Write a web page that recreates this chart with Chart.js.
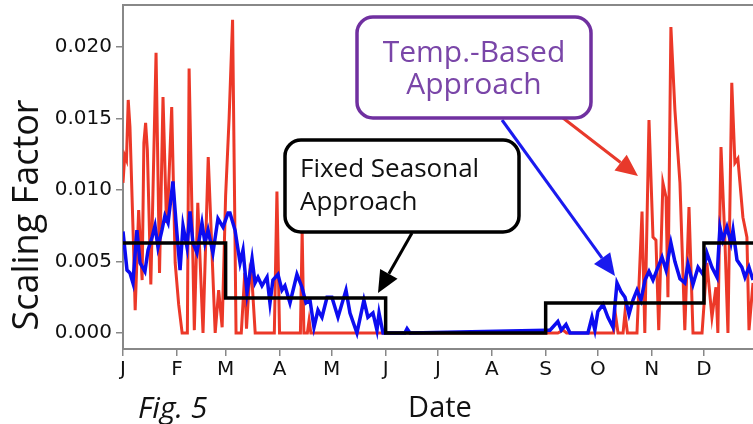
<!DOCTYPE html>
<html>
<head>
<meta charset="utf-8">
<script src="https://cdn.jsdelivr.net/npm/chart.js@4"></script>
<style>
  body { margin: 0; background: #fff; }
  canvas { display: block; }
</style>
</head>
<body>
<canvas id="scalingChart" width="753" height="424"></canvas>
<script>
    // month starts (day of year) and their tick labels
    const monthDays = [0, 31, 59, 90, 120, 151, 181, 212, 243, 273, 304, 334];
    const monthLabels = ['J', 'F', 'M', 'A', 'M', 'J', 'J', 'A', 'S', 'O', 'N', 'D'];
    const yTicks = [0, 0.005, 0.010, 0.015, 0.020];

    // temperature-based approach, daily (values in thousandths)
    const redDays = [0, 1, 2, 3, 4, 6, 7, 9, 11, 12, 13, 14, 16, 17, 19, 21, 23, 25, 26, 28, 30, 32, 34, 37, 38, 41, 43, 46, 49, 53, 55, 57, 59, 61, 63, 65, 68, 70, 71, 73, 74, 76, 87, 88.5, 90, 102, 103, 104, 106, 107, 108, 110, 250, 253, 255, 282, 283, 284.6, 287.5, 288.6, 290, 295.5, 298.4, 300, 302.4, 304.7, 306.4, 308, 310.4, 312.2, 313.3, 315, 317.3, 320.2, 323, 325.4, 327.7, 332.9, 335.7, 338.6, 340.9, 342, 343.8, 346, 347.8, 350, 351.8, 353.5, 356.4, 358.7, 359.9, 362.2];
    const redVals = [10.5, 12.4, 12.1, 16.3, 14.4, 6.3, 1.6, 8.6, 3.7, 13.3, 14.7, 12.8, 3.4, 8.6, 19.6, 4.2, 16.5, 7.7, 9.5, 15.8, 4.9, 2.0, 0, 0, 18.5, 0.2, 9.1, 0, 12.3, 0, 3.0, 0.4, 9.6, 15.0, 21.9, 0, 0, 4.2, 0.3, 4.4, 4.0, 0, 0, 9.9, 0, 0, 7.1, 0, 0, 0.9, 0, 0, 0, 0.2, 0, 0, 1.4, 0, 0, 1.4, 0, 0, 8.5, 0, 14.9, 6.7, 6.5, 0.2, 10.5, 9.5, 2.5, 21.4, 15.6, 10.5, 0.2, 8.8, 0, 0, 4.9, 1.1, 3.2, 0, 13.0, 6.7, 0, 17.5, 11.9, 12.2, 8.1, 6.7, 0.2, 3.5];

    // smoothed temperature-based approach (values in thousandths)
    const blueDays = [0, 2.3, 4, 5.7, 8, 9.8, 12.6, 14.4, 16.7, 18.4, 20.1, 22.4, 24.1, 25.9, 28.7, 30.5, 32.8, 34.5, 36.8, 38.5, 40.2, 42.5, 45.4, 47.1, 48.9, 51.7, 54.6, 57.5, 60.4, 61.5, 64.4, 67.3, 69, 71.3, 74.2, 75.9, 77.6, 79.9, 82.8, 84.5, 86.2, 89.1, 91.4, 93.1, 96, 100, 102.9, 105.2, 107.5, 109.8, 112.1, 114.4, 117.3, 120.1, 123.6, 128.2, 130.5, 134.5, 138.5, 140.8, 143.7, 146, 147.2, 149.5, 162, 163.3, 165, 243.2, 245.5, 250, 252, 254.7, 257, 267.3, 269.6, 271.3, 273, 276, 278.8, 281.7, 284, 286.3, 288.6, 290.9, 293.2, 295.5, 297.8, 300.1, 302.4, 304.7, 307.6, 309.9, 312.2, 315, 317.3, 320.2, 323, 324.8, 327.7, 330.6, 333.4, 335.7, 338.6, 341.5, 343.2, 344.9, 347.2, 349.5, 350.7, 353, 355.8, 357.6, 359.9, 362.2];
    const blueVals = [7.1, 4.4, 4.2, 3.5, 7.2, 4.9, 4.3, 5.8, 6.7, 7.5, 6.0, 7.2, 8.2, 7.7, 10.6, 7.7, 4.4, 7.5, 6.0, 8.5, 6.3, 5.6, 7.7, 6.3, 7.2, 5.6, 8.0, 7.4, 8.4, 8.4, 7.2, 4.9, 5.8, 2.8, 5.2, 3.5, 3.9, 3.3, 3.9, 2.1, 3.7, 4.1, 3.0, 3.3, 2.1, 4.1, 3.2, 2.1, 2.3, 0.4, 1.6, 1.1, 2.5, 2.5, 1.1, 3.0, 1.4, 0, 2.3, 1.1, 1.4, 0.2, 1.4, 0, 0, 0.3, 0, 0.2, 0.2, 0.8, 0.2, 0.6, 0, 0, 1.1, 0.2, 1.5, 2.0, 1.1, 0.4, 3.5, 2.9, 2.5, 1.3, 2.3, 3.0, 2.3, 3.7, 4.3, 3.7, 4.6, 5.3, 4.4, 6.3, 5.0, 3.8, 3.5, 4.8, 3.4, 4.6, 4.1, 5.6, 4.6, 3.9, 7.4, 6.5, 7.4, 6.3, 7.2, 5.1, 4.6, 3.9, 4.6, 3.7];

    // fixed seasonal approach (values in thousandths), value holds until next day listed
    const stepDays = [0, 59, 151, 243, 334, 362.2];
    const stepVals = [6.3, 2.45, 0, 2.1, 6.3, 6.3];

    function toPoints(days, vals) {
        return days.map((d, i) => ({ x: d, y: vals[i] / 1000 }));
    }

    function arrow(ctx, x1, y1, x2, y2, color) {
        const ang = Math.atan2(y2 - y1, x2 - x1);
        const headLen = 22, headW = 10;
        const bx = x2 - headLen * Math.cos(ang), by = y2 - headLen * Math.sin(ang);
        ctx.strokeStyle = color;
        ctx.fillStyle = color;
        ctx.lineWidth = 3;
        ctx.beginPath();
        ctx.moveTo(x1, y1);
        ctx.lineTo(bx, by);
        ctx.stroke();
        ctx.beginPath();
        ctx.moveTo(x2, y2);
        ctx.lineTo(bx + headW * Math.sin(ang), by - headW * Math.cos(ang));
        ctx.lineTo(bx - headW * Math.sin(ang), by + headW * Math.cos(ang));
        ctx.closePath();
        ctx.fill();
    }

    function box(ctx, x, y, w, h, color) {
        ctx.beginPath();
        ctx.roundRect(x, y, w, h, 16);
        ctx.fillStyle = '#fff';
        ctx.fill();
        ctx.lineWidth = 3.5;
        ctx.strokeStyle = color;
        ctx.stroke();
    }

    const annotations = {
        id: 'annotations',
        afterDraw(chart) {
            const ctx = chart.ctx;
            const a = chart.chartArea;
            ctx.save();
            // top frame line
            ctx.strokeStyle = '#888';
            ctx.lineWidth = 2;
            ctx.beginPath();
            ctx.moveTo(a.left, a.top);
            ctx.lineTo(a.right, a.top);
            ctx.stroke();

            const font = '"Open Sans", sans-serif';
            // y axis title
            ctx.save();
            ctx.translate(38, 215);
            ctx.rotate(-Math.PI / 2);
            ctx.fillStyle = '#111';
            ctx.font = '36px ' + font;
            ctx.textAlign = 'center';
            ctx.textBaseline = 'alphabetic';
            ctx.fillText('Scaling Factor', 0, 0);
            ctx.restore();

            ctx.fillStyle = '#111';
            ctx.font = '29px ' + font;
            ctx.textAlign = 'center';
            ctx.fillText('Date', 440, 417);
            ctx.textAlign = 'left';
            ctx.font = 'italic 30px ' + font;
            ctx.fillText('Fig. 5', 138, 418);

            // arrows
            arrow(ctx, 412, 233, 378, 293, '#000');
            arrow(ctx, 502, 120, 615, 276, '#1a1aee');
            arrow(ctx, 563, 118, 638, 176, '#e8392b');

            // boxes
            box(ctx, 357, 17, 234, 101, '#7030a0');
            ctx.fillStyle = '#7a46a8';
            ctx.font = '30px ' + font;
            ctx.textAlign = 'center';
            ctx.fillText('Temp.-Based', 474, 62);
            ctx.fillText('Approach', 474, 94);

            box(ctx, 285, 140, 234, 92, '#000');
            ctx.fillStyle = '#111';
            ctx.font = '26px ' + font;
            ctx.textAlign = 'left';
            ctx.fillText('Fixed Seasonal', 300, 177);
            ctx.fillText('Approach', 300, 210);
            ctx.restore();
        }
    };

    const ctx = document.getElementById('scalingChart').getContext('2d');
    new Chart(ctx, {
        type: 'line',
        data: {
            datasets: [{
                label: 'Fixed Seasonal Approach',
                data: toPoints(stepDays, stepVals),
                borderColor: '#000',
                borderWidth: 3.5,
                stepped: 'before',
                pointRadius: 0
            }, {
                label: 'Temp.-Based (smoothed)',
                data: toPoints(blueDays, blueVals),
                borderColor: 'rgb(12,12,240)',
                borderWidth: 3.5,
                tension: 0,
                pointRadius: 0
            }, {
                label: 'Temp.-Based Approach',
                data: toPoints(redDays, redVals),
                borderColor: 'rgb(236,56,40)',
                borderWidth: 3,
                tension: 0,
                pointRadius: 0
            }]
        },
        options: {
            responsive: false,
            animation: false,
            layout: { padding: { top: 5, left: 0, right: 0, bottom: 0 } },
            plugins: {
                legend: { display: false },
                tooltip: { enabled: false }
            },
            scales: {
                x: {
                    type: 'linear',
                    min: 0,
                    max: 362.2,
                    afterBuildTicks: scale => {
                        scale.ticks = monthDays.map(v => ({ value: v }));
                    },
                    afterFit: scale => {
                        scale.height = 75;
                        scale.paddingLeft = 0;
                        scale.paddingRight = 0;
                    },
                    ticks: {
                        callback: (v, i) => monthLabels[i],
                        font: { family: 'DejaVu Sans', size: 20 },
                        color: '#111',
                        padding: 2,
                        maxRotation: 0,
                        autoSkip: false
                    },
                    grid: { drawOnChartArea: false, tickLength: 7, color: '#888', lineWidth: 1.5 },
                    border: { color: '#888', width: 2 }
                },
                y: {
                    min: -0.00112,
                    max: 0.02294,
                    afterBuildTicks: scale => {
                        scale.ticks = yTicks.map(v => ({ value: v }));
                    },
                    afterFit: scale => {
                        scale.width = 123;
                        scale.paddingTop = 0;
                        scale.paddingBottom = 0;
                    },
                    ticks: {
                        callback: v => v.toFixed(3),
                        font: { family: 'DejaVu Sans', size: 20 },
                        color: '#111',
                        padding: 4
                    },
                    grid: { drawOnChartArea: false, tickLength: 7, color: '#888', lineWidth: 1.5 },
                    border: { color: '#888', width: 2 }
                }
            }
        },
        plugins: [annotations]
    });
</script>
</body>
</html>
